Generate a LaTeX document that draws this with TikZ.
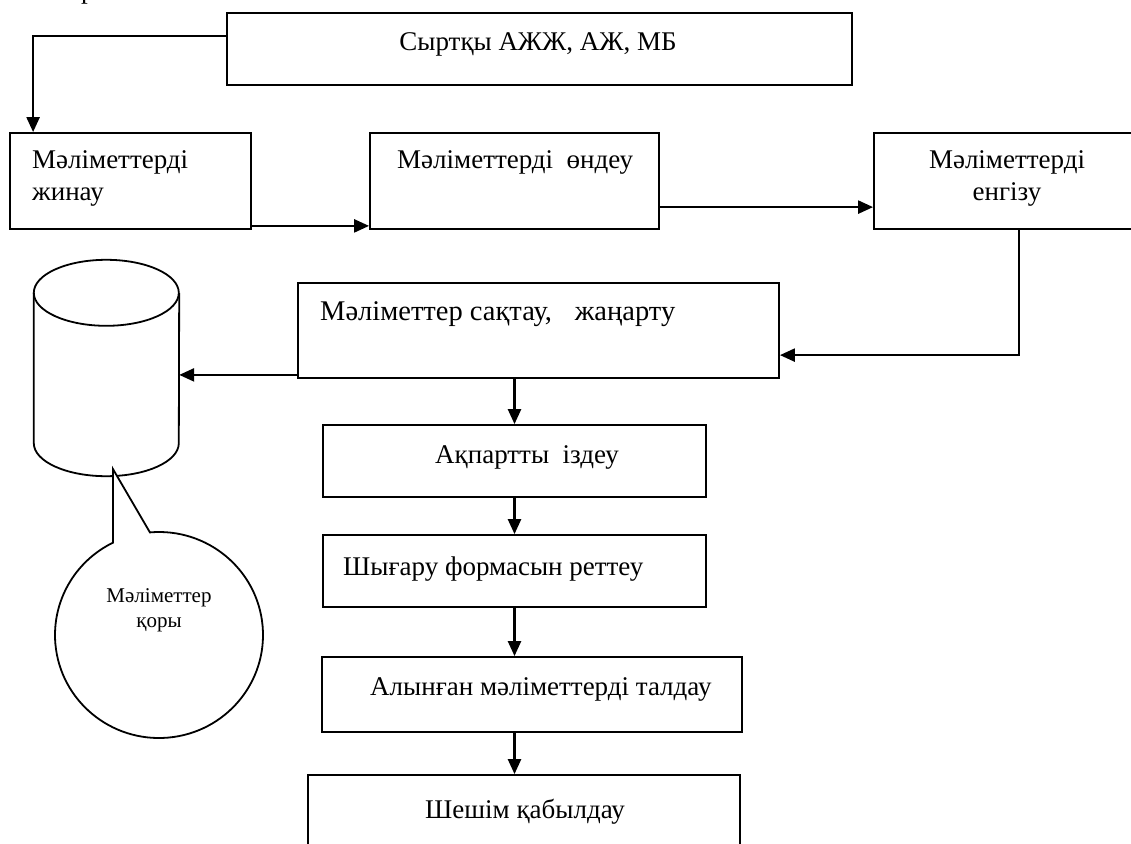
\documentclass[tikz,border=0pt]{standalone}
\usepackage{fontspec}
\setmainfont{Liberation Serif}
\usetikzlibrary{arrows.meta,calc}
\tikzset{
  box/.style={draw, rectangle, line width=1.8pt, inner sep=0pt},
  ghost/.style={rectangle, inner sep=0pt},
  lbl/.style={inner sep=0pt, font=\fontsize{27}{32}\selectfont, align=left},
  clbl/.style={inner sep=0pt, font=\fontsize{27}{32}\selectfont, align=center},
  slbl/.style={inner sep=0pt, font=\fontsize{21}{25}\selectfont, align=center},
  conn/.style={line width=2.4pt, -{Triangle[length=15pt,width=13pt]}},
  outline/.style={line width=1.8pt},
}
\begin{document}
\begin{tikzpicture}[x=1pt,y=-1pt]
\useasboundingbox (0,0) rectangle (1131,843);

% descender of a heading line above the chart
\node[lbl, anchor=base west] (frag) at (81,-1.5) {р};

% process boxes
\node[box, minimum width=625pt, minimum height=72pt] (T) at (539.5,49) {};
\node[box, minimum width=241pt, minimum height=96pt] (A) at (130.5,181) {};
\node[box, minimum width=289pt, minimum height=96pt] (B) at (514.5,181) {};
\node[box, minimum width=266pt, minimum height=96pt] (C) at (1007,181) {};
\node[box, minimum width=481pt, minimum height=95pt] (D) at (538.5,330.5) {};
\node[box, minimum width=383pt, minimum height=72pt] (E) at (514.5,461) {};
\node[box, minimum width=383pt, minimum height=72pt] (F) at (514.5,571) {};
\node[box, minimum width=420pt, minimum height=75pt] (G) at (532,694.5) {};
\node[box, minimum width=432pt, minimum height=85pt] (H) at (524,817.5) {};

% box texts (two-line nodes sit on the baseline of their last line)
\node[clbl, anchor=base] (tT) at (538,51) {Сыртқы АЖЖ, АЖ, МБ};
\node[lbl, anchor=base west] (tA) at (32,200) {Мәліметтерді\\жинау};
\node[lbl, anchor=base west] (tB) at (397,168) {Мәліметтерді\ \ өндеу};
\node[clbl, anchor=base] (tC) at (1007,200) {Мәліметтерді\\енгізу};
\node[lbl, anchor=base west, font=\fontsize{28.5}{32}\selectfont] (tD) at (320,320) {Мәліметтер сақтау,\hspace{0.8em}жаңарту};
\node[lbl, anchor=base west] (tE) at (435,463) {Ақпартты\ \ іздеу};
\node[lbl, anchor=base west] (tF) at (343,575) {Шығару формасын реттеу};
\node[lbl, anchor=base west] (tG) at (370,695) {Алынған мәліметтерді талдау};
\node[lbl, anchor=base west] (tH) at (425,818) {Шешім қабылдау};

% database cylinder
\node[ghost, minimum width=145pt, minimum height=216pt] (db) at (106.5,368) {};
\draw[outline] ($(db.north west)+(0,33)$) -- ($(db.south west)+(0,-33)$)
  arc[start angle=180, end angle=360, x radius=72.5pt, y radius=33pt]
  -- ($(db.north east)+(0,33)$);
\draw[outline] ($(db.north west)+(0,33)$)
  arc[start angle=180, end angle=-180, x radius=72.5pt, y radius=33pt];

% callout bubble
\coordinate (cc) at (159,635);
\coordinate (lb) at ($(cc)+(243.7:104 and 103)$);
\draw[outline, fill=white] (lb) -- (lb |- 0,469) -- ($(cc)+(265:104 and 103)$)
  arc[start angle=95, end angle=-243.7, x radius=104pt, y radius=103pt] -- cycle;
\node[slbl, anchor=base] (tdb) at (159,627) {Мәліметтер\\қоры};

% connectors
\draw[conn] ($(T.north west)+(0,24)$) -| ($(A.north west)+(24,0)$);
\draw[conn] ($(A.south east)+(0,-4)$) -- ($(B.south west)+(0,-4)$);
\draw[conn] ($(B.north east)+(0,75)$) -- ($(C.north west)+(0,75)$);
\draw[conn] ($(C.south west)+(146,0)$) |- ($(D.north east)+(0,73)$);
\draw[conn] ($(D.south west)+(0,-4)$) coordinate (dl) -- (db.east |- dl);
\draw[conn] (E.north |- D.south) -- (E.north);
\draw[conn] (E.south) -- (F.north);
\draw[conn] (F.south) -- (F.south |- G.north);
\draw[conn] (E.south |- G.south) -- (E.south |- H.north);
\end{tikzpicture}
\end{document}
